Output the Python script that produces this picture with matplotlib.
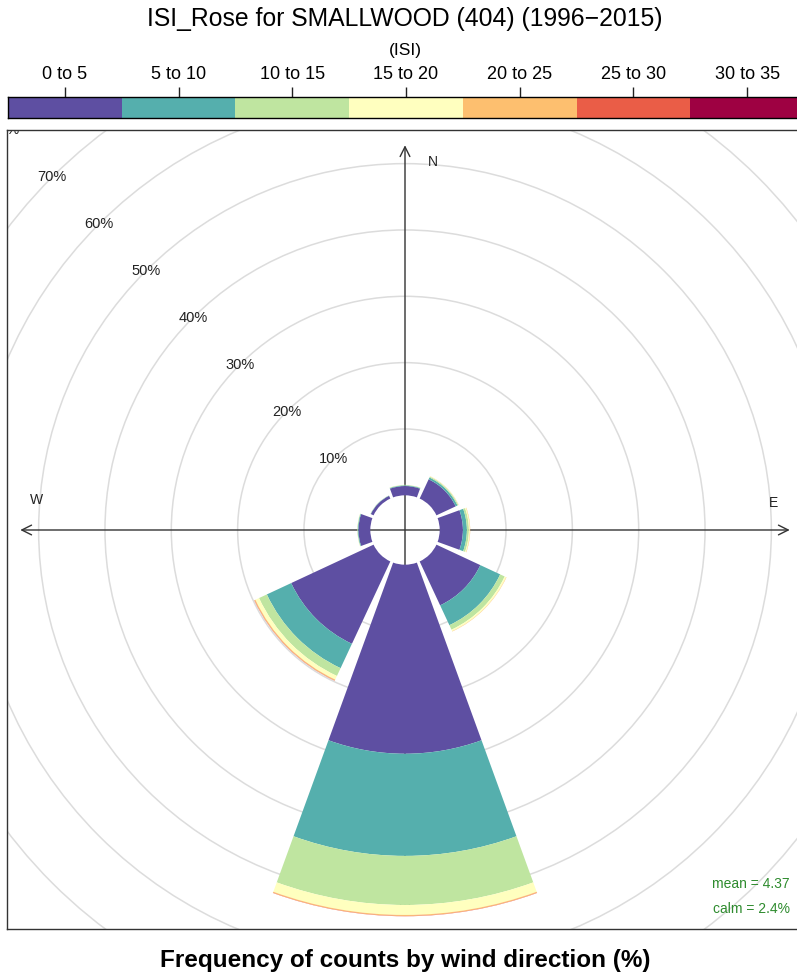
import numpy as np
import matplotlib
matplotlib.use("Agg")
import matplotlib.pyplot as plt
from matplotlib.patches import Wedge, Circle

plt.rcParams['font.family'] = ['Liberation Sans', 'DejaVu Sans']

# ISI classes and colours (spectral scale)
isi_bins = ["0 to 5", "5 to 10", "10 to 15", "15 to 20", "20 to 25", "25 to 30", "30 to 35"]
isi_cols = ["#5E4FA2", "#55AFAD", "#BFE5A0", "#FFFFBF", "#FDBF6F", "#EA5D47", "#9E0142"]

# wind direction sectors (deg) and % frequency per ISI class
directions = [0, 45, 90, 135, 180, 225, 270, 315]
freq = {
    "0 to 5":   [1.40, 3.20, 3.50, 7.30, 28.5, 13.7, 1.80, 0.45],
    "5 to 10":  [0.10, 0.30, 0.60, 3.30, 15.4, 4.05, 0.10, 0.04],
    "10 to 15": [0.05, 0.15, 0.30, 0.75, 7.40, 1.30, 0.05, 0.02],
    "15 to 20": [0.03, 0.05, 0.15, 0.25, 1.50, 0.60, 0.03, 0.01],
    "20 to 25": [0.00, 0.02, 0.05, 0.05, 0.15, 0.15, 0.00, 0.00],
    "25 to 30": [0.00, 0.00, 0.00, 0.00, 0.05, 0.05, 0.00, 0.00],
    "30 to 35": [0.00, 0.00, 0.00, 0.00, 0.00, 0.00, 0.00, 0.00],
}
grid_pct = [10, 20, 30, 40, 50, 60, 70, 80]
mean_isi = 4.37
calm_pct = 2.4

offset = 5.23      # hole in the middle, in % units
half_w = 20.0      # half petal width, deg
axmax = 58.0

fig = plt.figure(figsize=(7.97, 9.74), dpi=100)
W, H = 797, 974

# ---- rose panel ----
ax = fig.add_axes([7 / W, (H - 929) / H, 796 / W, 799 / H])
ax.set_xlim(-60.0, 60.0)
ax.set_ylim(-60.15, 60.3)
ax.set_xticks([]); ax.set_yticks([])
for s in ax.spines.values():
    s.set_linewidth(1.0); s.set_color("#333333")
ax.spines['right'].set_visible(False)

for g in grid_pct:
    ax.add_patch(Circle((0, 0), offset + g, fill=False, ec="#DCDCDC", lw=1.1, zorder=1))
    r = offset + g
    ax.text(-r * np.sin(np.pi / 4), r * np.cos(np.pi / 4), f"{g}%", fontsize=10.5,
            ha="center", va="center", color="#222222", zorder=2, clip_on=True)

arr = dict(arrowstyle="<->,head_length=0.7,head_width=0.35", color="#333333", lw=1.0,
           shrinkA=0, shrinkB=0)
ax.annotate("", xy=(-axmax, 0), xytext=(axmax, 0), arrowprops=arr, zorder=2)
ax.annotate("", xy=(0, -axmax), xytext=(0, axmax), arrowprops=arr, zorder=2)
ax.text(4.2, 55.5, "N", fontsize=10, ha="center", va="center", color="#222222")
ax.text(55.5, 4.1, "E", fontsize=10, ha="center", va="center", color="#222222")
ax.text(-55.5, 4.5, "W", fontsize=10, ha="center", va="center", color="#222222")

# stacked petals
for i, d in enumerate(directions):
    inner = offset
    for b, c in zip(isi_bins, isi_cols):
        v = freq[b][i]
        if v <= 0:
            continue
        outer = inner + v
        ax.add_patch(Wedge((0, 0), outer, 90 - d - half_w, 90 - d + half_w,
                           width=v, fc=c, ec="none", zorder=3))
        inner = outer

ax.text(58.0, -53.4, f"mean = {mean_isi}", fontsize=10, color="#2E8B2E", ha="right", va="center")
ax.text(58.0, -57.2, f"calm = {calm_pct}%", fontsize=10, color="#2E8B2E", ha="right", va="center")

# ---- key ----
kx = fig.add_axes([8 / W, (H - 118) / H, 796 / W, 21 / H])
kx.barh(0, [1] * len(isi_cols), left=np.arange(len(isi_cols)), height=1, color=isi_cols,
        align="edge")
kx.set_xlim(0, len(isi_cols)); kx.set_ylim(0, 1)
kx.set_yticks([])
kx.set_xticks(np.arange(len(isi_cols)) + 0.5)
kx.set_xticklabels(isi_bins, fontsize=13)
kx.xaxis.tick_top()
kx.tick_params(axis="x", length=7, width=1, pad=3, color="#222222")
for s in kx.spines.values():
    s.set_linewidth(1.0)
fig.text(405 / W, 1 - 50 / H, "(ISI)", fontsize=12.5, ha="center", va="center")
fig.text(405 / W, 1 - 19 / H, "ISI_Rose for SMALLWOOD (404) (1996\u22122015)", fontsize=17.8,
         ha="center", va="center")
fig.text(405 / W, 1 - 960 / H, "Frequency of counts by wind direction (%)", fontsize=17.5,
         fontweight="bold", ha="center", va="center")

fig.savefig("out.png", dpi=100)
